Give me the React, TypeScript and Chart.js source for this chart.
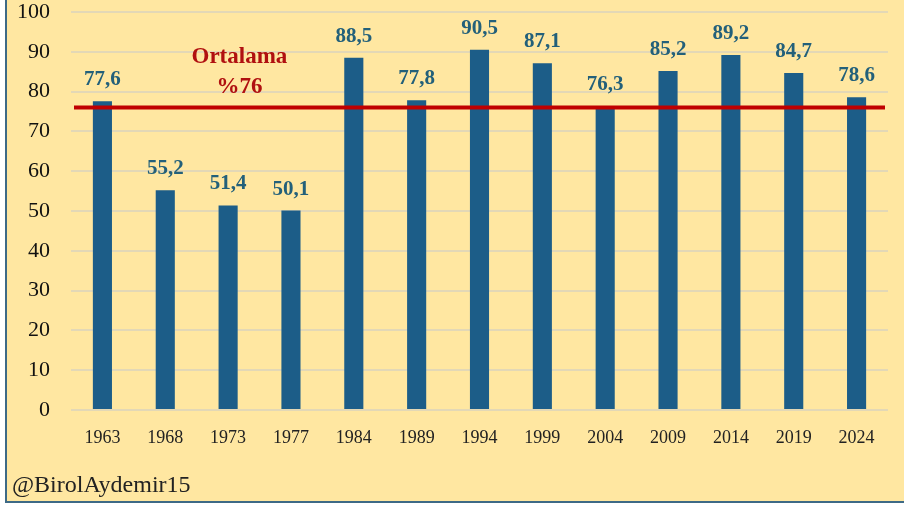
import React, { useEffect, useRef } from "react";
import { Chart, registerables } from "chart.js";

Chart.register(...registerables);

const years = ["1963", "1968", "1973", "1977", "1984", "1989", "1994", "1999", "2004", "2009", "2014", "2019", "2024"];
const turnout = [77.6, 55.2, 51.4, 50.1, 88.5, 77.8, 90.5, 87.1, 76.3, 85.2, 89.2, 84.7, 78.6];
const average = 76;
const averageLabel = ["Ortalama", "%76"];
const yTicks = [0, 10, 20, 30, 40, 50, 60, 70, 80, 90, 100];
const watermark = "@BirolAydemir15";

const fmt = (v: number) => v.toFixed(1).replace(".", ",");
const SERIF = "'Liberation Serif', 'Times New Roman', serif";

export default function App() {
  const ref = useRef<HTMLCanvasElement | null>(null);

  useEffect(() => {
    document.body.style.margin = "0";
    const overlay = {
      id: "overlay",
      afterDatasetsDraw(chart: any) {
        const { ctx, chartArea, scales } = chart;
        const x = scales.x;
        const y = scales.y;
        ctx.save();
        // average line
        const ya = y.getPixelForValue(average);
        ctx.strokeStyle = "#C00000";
        ctx.lineWidth = 4;
        ctx.beginPath();
        ctx.moveTo(chartArea.left + 3, ya);
        ctx.lineTo(chartArea.right - 3, ya);
        ctx.stroke();
        // value labels
        ctx.font = `bold 21px ${SERIF}`;
        ctx.fillStyle = "#23607A";
        ctx.textAlign = "center";
        ctx.textBaseline = "alphabetic";
        const meta = chart.getDatasetMeta(0);
        meta.data.forEach((bar: any, i: number) => {
          ctx.fillText(fmt(turnout[i]), bar.x, bar.y - 16);
        });
        // average label
        ctx.fillStyle = "#B01010";
        ctx.font = `bold 23px ${SERIF}`;
        ctx.textBaseline = "middle";
        const lx = x.getPixelForValue(2.18);
        ctx.fillText(averageLabel[0], lx, y.getPixelForValue(88.6));
        ctx.fillText(averageLabel[1], lx, y.getPixelForValue(81.2));
        ctx.restore();
      },
    };

    const chart = new Chart(ref.current as HTMLCanvasElement, {
      type: "bar",
      data: {
        labels: years,
        datasets: [
          {
            data: turnout,
            backgroundColor: "#1C5D88",
            barPercentage: 0.38,
            categoryPercentage: 0.8,
          },
        ],
      },
      options: {
        animation: false,
        responsive: false,
        maintainAspectRatio: false,
        layout: { padding: { top: 12, right: 16, left: 0, bottom: 0 } },
        plugins: { legend: { display: false }, tooltip: { enabled: false } },
        scales: {
          x: {
            grid: { display: false },
            border: { display: false },
            ticks: {
              color: "#222",
              padding: 9,
              font: { family: SERIF, size: 18 },
              maxRotation: 0,
            },
            afterFit(s: any) {
              s.height = 97;
            },
          },
          y: {
            min: 0,
            max: 100,
            afterBuildTicks(s: any) {
              s.ticks = yTicks.map((v) => ({ value: v }));
            },
            grid: { color: "#E3D8B6", lineWidth: 2, drawTicks: false },
            border: { display: false },
            ticks: {
              color: "#111",
              padding: 21,
              font: { family: SERIF, size: 22 },
            },
            afterFit(s: any) {
              s.width = 71;
              s.paddingTop = 0;
              s.paddingBottom = 0;
            },
          },
        },
      },
      plugins: [overlay],
    });
    return () => chart.destroy();
  }, []);

  return (
    <div
      style={{
        position: "fixed",
        left: 0,
        top: 0,
        width: 904,
        height: 507,
        background: "#FFFFFF",
        overflow: "hidden",
      }}
    >
      <div
        style={{
          position: "absolute",
          left: 5,
          top: -4,
          width: 910,
          height: 507,
          background: "#FFE7A1",
          borderLeft: "2px solid #3E6A86",
          borderBottom: "2px solid #3E6A86",
          boxSizing: "border-box",
        }}
      />
      <canvas ref={ref} width={904} height={507} style={{ position: "absolute", left: 0, top: 0 }} />
      <div
        style={{
          position: "absolute",
          left: 12,
          top: 469,
          fontFamily: SERIF,
          fontSize: 24,
          color: "#222",
          lineHeight: "30px",
        }}
      >
        {watermark}
      </div>
    </div>
  );
}
